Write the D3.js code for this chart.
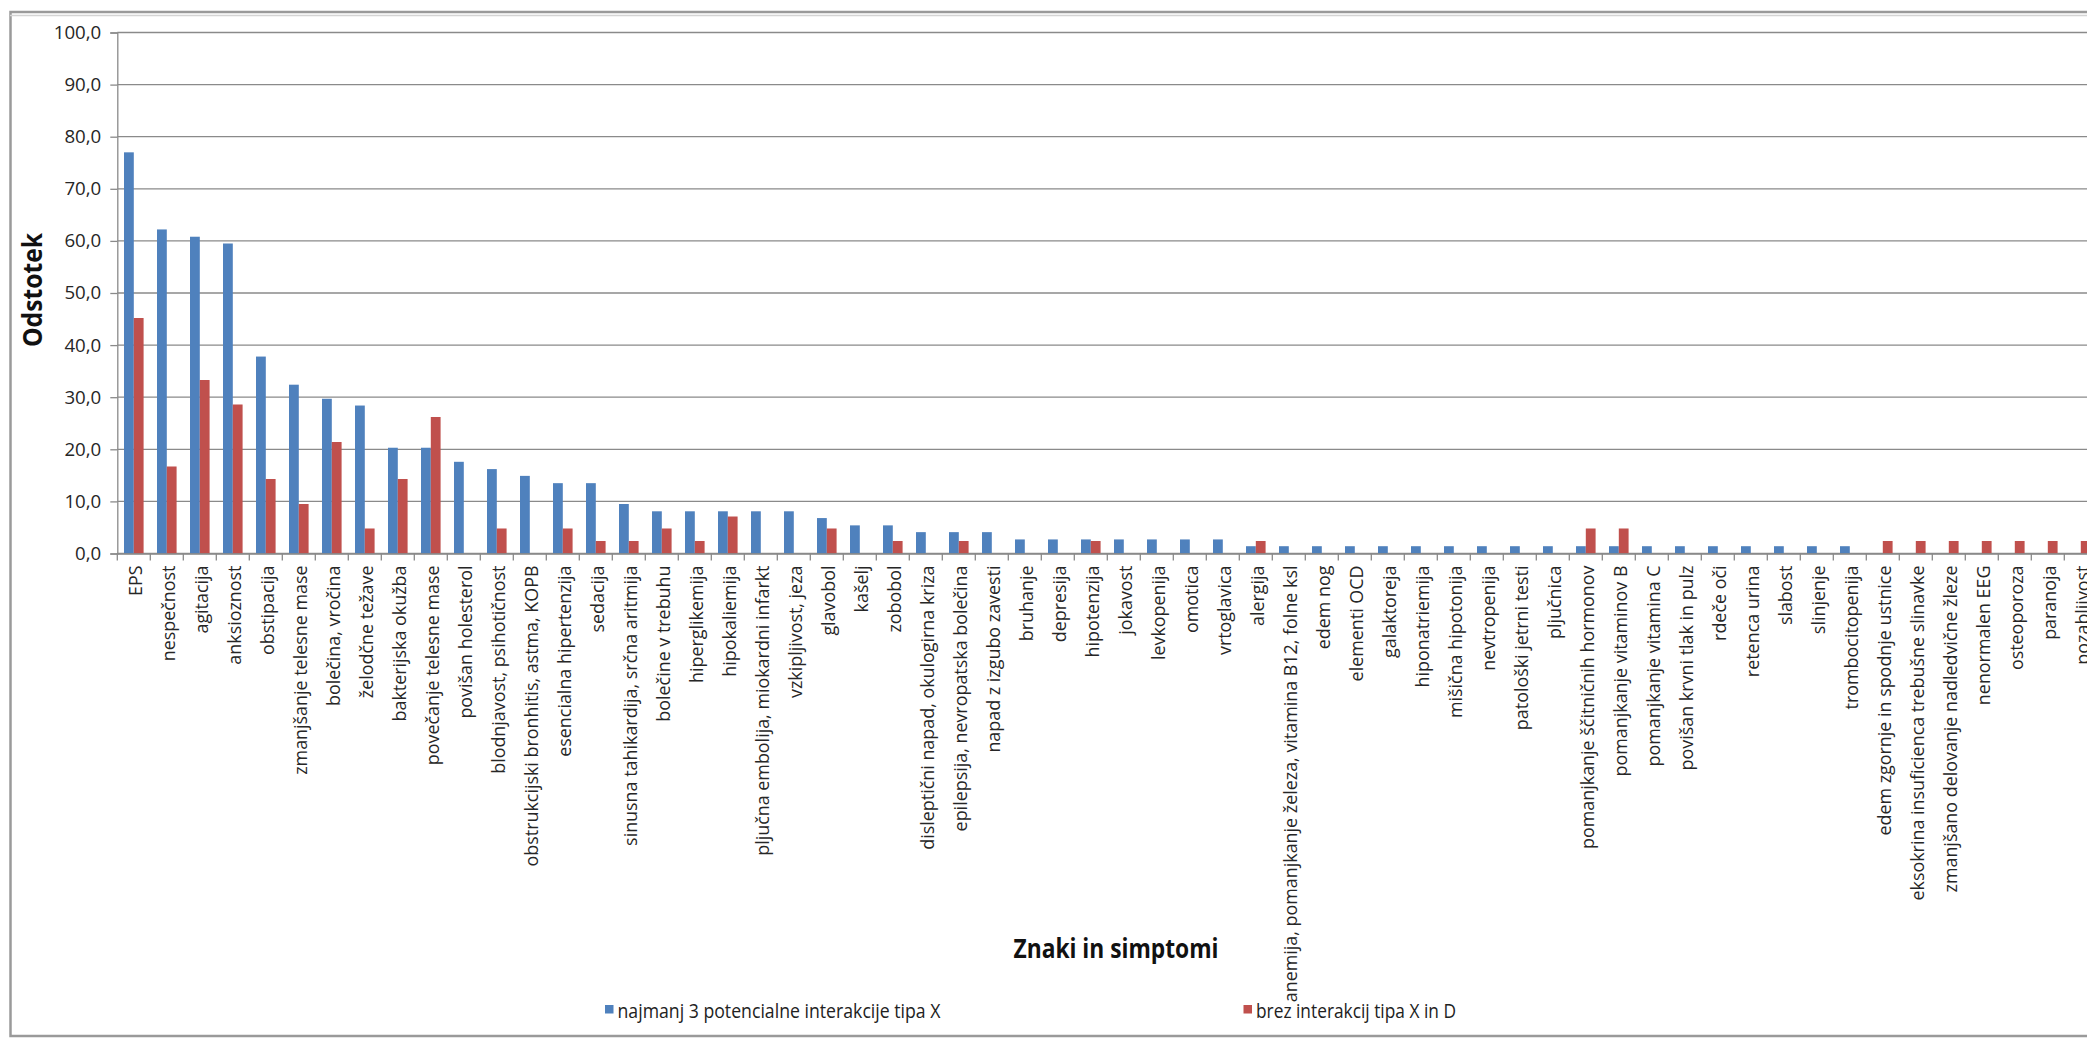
<!DOCTYPE html>
<html>
<head>
<meta charset="utf-8">
<script src="https://cdn.jsdelivr.net/npm/d3@7"></script>
<style>
  html, body { margin: 0; padding: 0; background: #ffffff; overflow: hidden; }
  svg { display: block; }
</style>
</head>
<body>
<script>
// Znaki in simptomi – delež bolnikov po skupinah
const categories = [
  "EPS", "nespečnost", "agitacija", "anksioznost", "obstipacija",
  "zmanjšanje telesne mase", "bolečina, vročina", "želodčne težave", "bakterijska okužba",
  "povečanje telesne mase", "povišan holesterol", "blodnjavost, psihotičnost",
  "obstrukcijski bronhitis, astma, KOPB", "esencialna hipertenzija", "sedacija",
  "sinusna tahikardija, srčna aritmija", "bolečine v trebuhu", "hiperglikemija",
  "hipokaliemija", "pljučna embolija, miokardni infarkt", "vzkipljivost, jeza",
  "glavobol", "kašelj", "zobobol", "disleptični napad, okulogirna kriza",
  "epilepsija, nevropatska bolečina", "napad z izgubo zavesti", "bruhanje", "depresija",
  "hipotenzija", "jokavost", "levkopenija", "omotica", "vrtoglavica", "alergija",
  "anemija, pomanjkanje železa, vitamina B12, folne ksl", "edem nog", "elementi OCD",
  "galaktoreja", "hiponatriemija", "mišična hipotonija", "nevtropenija",
  "patološki jetrni testi", "pljučnica", "pomanjkanje ščitničnih hormonov",
  "pomanjkanje vitaminov B", "pomanjkanje vitamina C", "povišan krvni tlak in pulz",
  "rdeče oči", "retenca urina", "slabost", "slinjenje", "trombocitopenija",
  "edem zgornje in spodnje ustnice", "eksokrina insuficienca trebušne slinavke",
  "zmanjšano delovanje nadledvične žleze", "nenormalen EEG", "osteoporoza",
  "paranoja", "pozabljivost"
];

const seriesNames = [
  "najmanj 3 potencialne interakcije tipa X",
  "brez interakcij tipa X in D"
];

const valuesX3 = [
  77.0, 62.2, 60.8, 59.5, 37.8, 32.4, 29.7, 28.4, 20.3, 20.3,
  17.6, 16.2, 14.9, 13.5, 13.5, 9.5, 8.1, 8.1, 8.1, 8.1,
  8.1, 6.8, 5.4, 5.4, 4.1, 4.1, 4.1, 2.7, 2.7, 2.7,
  2.7, 2.7, 2.7, 2.7, 1.4, 1.4, 1.4, 1.4, 1.4, 1.4,
  1.4, 1.4, 1.4, 1.4, 1.4, 1.4, 1.4, 1.4, 1.4, 1.4,
  1.4, 1.4, 1.4, 0, 0, 0, 0, 0, 0, 0
];

const valuesNoXD = [
  45.2, 16.7, 33.3, 28.6, 14.3, 9.5, 21.4, 4.8, 14.3, 26.2,
  0, 4.8, 0, 4.8, 2.4, 2.4, 4.8, 2.4, 7.1, 0,
  0, 4.8, 0, 2.4, 0, 2.4, 0, 0, 0, 2.4,
  0, 0, 0, 0, 2.4, 0, 0, 0, 0, 0,
  0, 0, 0, 0, 4.8, 4.8, 0, 0, 0, 0,
  0, 0, 0, 2.4, 2.4, 2.4, 2.4, 2.4, 2.4, 2.4
];

const yTicks = [0, 10, 20, 30, 40, 50, 60, 70, 80, 90, 100];
const yTickLabels = ["0,0", "10,0", "20,0", "30,0", "40,0", "50,0", "60,0", "70,0", "80,0", "90,0", "100,0"];

const colors = ["#4f81bd", "#c0504d"];

const W = 2087, H = 1042;
const plotLeft = 117.3, plotTop = 32.5, plotBottom = 553.5;
const bandStep = 33.0;
const plotRight = plotLeft + bandStep * categories.length;
const gridColor = "#8a8a8a";

const svg = d3.select("body").append("svg")
  .attr("width", W).attr("height", H);

// outer frame of the chart area
svg.append("rect")
  .attr("x", 10.5).attr("y", 12)
  .attr("width", W + 20).attr("height", 1024)
  .attr("fill", "#ffffff")
  .attr("stroke", "#9a9a9a").attr("stroke-width", 2.5);
svg.append("line")
  .attr("x1", 10).attr("x2", W).attr("y1", 15.5).attr("y2", 15.5)
  .attr("stroke", "#d4d4d4").attr("stroke-width", 1.5);

const x0 = d3.scaleBand().domain(categories).range([plotLeft, plotRight]).padding(0);
const x1 = d3.scaleBand().domain(seriesNames).range([0, x0.bandwidth()])
  .paddingInner(0).paddingOuter(0.684);
const y = d3.scaleLinear().domain([0, 100]).range([plotBottom, plotTop]);

// horizontal gridlines
svg.append("g").selectAll("line").data(yTicks).join("line")
  .attr("x1", plotLeft).attr("x2", W + 10)
  .attr("y1", d => y(d)).attr("y2", d => y(d))
  .attr("stroke", gridColor).attr("stroke-width", 1.3);

// y axis
const yAxis = d3.axisLeft(y).tickValues(yTicks)
  .tickFormat((d, i) => yTickLabels[i]).tickSizeOuter(0).tickSize(7).tickPadding(9);
const gy = svg.append("g").attr("transform", `translate(${plotLeft},0)`).call(yAxis);
gy.select(".domain").attr("stroke", gridColor).attr("stroke-width", 1.3);
gy.selectAll(".tick line").attr("stroke", gridColor).attr("stroke-width", 1.3);
gy.selectAll(".tick text")
  .attr("font-family", "'Open Sans', sans-serif").attr("font-size", 18.7)
  .attr("fill", "#262626");

// bars
const rows = categories.map((c, i) => ({ cat: c, vals: [valuesX3[i], valuesNoXD[i]] }));
const groups = svg.append("g").selectAll("g").data(rows).join("g")
  .attr("transform", d => `translate(${x0(d.cat)},0)`);
groups.selectAll("rect")
  .data(d => d.vals.map((v, k) => ({ key: seriesNames[k], v, k })))
  .join("rect")
  .attr("x", d => x1(d.key))
  .attr("width", x1.bandwidth())
  .attr("y", d => y(d.v))
  .attr("height", d => y(0) - y(d.v))
  .attr("fill", d => colors[d.k]);

// x axis with category labels
const xAxis = d3.axisBottom(x0).tickSize(0).tickSizeOuter(0).tickPadding(0);
const gx = svg.append("g").attr("transform", `translate(0,${plotBottom})`).call(xAxis);
gx.select(".domain").attr("stroke", gridColor).attr("stroke-width", 1.3);
gx.selectAll(".tick text")
  .attr("font-family", "'Open Sans', sans-serif").attr("font-size", 17.9)
  .attr("fill", "#262626")
  .attr("text-anchor", "end")
  .attr("dy", null)
  .attr("transform", "translate(8.5,12) rotate(-90)");
// band separator ticks
svg.append("g").selectAll("line")
  .data(d3.range(categories.length + 1))
  .join("line")
  .attr("x1", i => plotLeft + i * x0.step()).attr("x2", i => plotLeft + i * x0.step())
  .attr("y1", plotBottom).attr("y2", plotBottom + 7)
  .attr("stroke", gridColor).attr("stroke-width", 1.3);

// axis titles
svg.append("text")
  .attr("transform", "translate(42,290) rotate(-90)")
  .attr("text-anchor", "middle")
  .attr("font-family", "'Open Sans', sans-serif").attr("font-weight", "bold")
  .attr("font-size", 26).attr("fill", "#111")
  .attr("textLength", 114).attr("lengthAdjust", "spacingAndGlyphs")
  .text("Odstotek");

svg.append("text")
  .attr("x", 1116).attr("y", 958)
  .attr("text-anchor", "middle")
  .attr("font-family", "'Open Sans', sans-serif").attr("font-weight", "bold")
  .attr("font-size", 26).attr("fill", "#111")
  .attr("textLength", 205).attr("lengthAdjust", "spacingAndGlyphs")
  .text("Znaki in simptomi");

// legend
const legendItems = [
  { x: 605, w: 323 },
  { x: 1243.5, w: 200 }
];
const lg = svg.append("g").selectAll("g").data(seriesNames).join("g")
  .attr("transform", (d, i) => `translate(${legendItems[i].x},1005)`);
lg.append("rect").attr("width", 8.5).attr("height", 8.5).attr("fill", (d, i) => colors[i]);
lg.append("text")
  .attr("x", 12.5).attr("y", 13)
  .attr("font-family", "'Open Sans', sans-serif").attr("font-size", 20)
  .attr("fill", "#222")
  .attr("textLength", (d, i) => legendItems[i].w).attr("lengthAdjust", "spacingAndGlyphs")
  .text(d => d);
</script>
</body>
</html>
